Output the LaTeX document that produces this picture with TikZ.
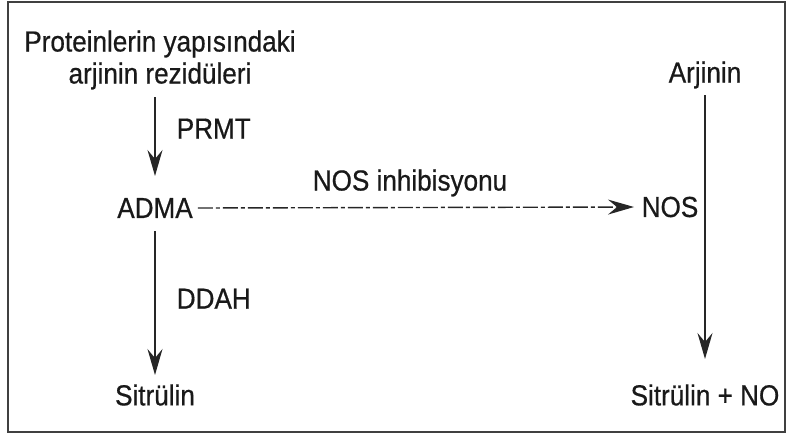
\documentclass[tikz,border=0pt]{standalone}
\usepackage{fontspec}
\setmainfont[FakeStretch=0.9,FakeBold=0.6]{Liberation Sans}
\usetikzlibrary{arrows.meta}
\begin{document}
\begin{tikzpicture}[x=1pt,y=-1pt,
  lbl/.style={font=\fontsize{29}{32}\selectfont, text=black!90, inner sep=1pt, align=center},
  arr/.style={-{Stealth[length=26pt,width=15pt,inset=9pt]}, line width=1.6pt, draw=black!85},
  dasharr/.style={-{Stealth[length=26pt,width=15pt,inset=9pt]}, line width=1.4pt, draw=black!85,
    dash pattern=on 15pt off 3pt on 4pt off 3pt}]
\useasboundingbox (0,0) rectangle (787,437);
\draw[line width=1.6pt, draw=black!75] (8,2) rectangle (785,432);
\node[lbl] (prot) at (160,60) {Proteinlerin yapısındaki\\arjinin rezidüleri};
\node[lbl] (adma) at (155,208) {ADMA};
\node[lbl] (sit1) at (155,395) {Sitrülin};
\node[lbl] (arj) at (705,75) {Arjinin};
\node[lbl] (nos) at (670,207) {NOS};
\node[lbl] (sit2) at (705,395) {Sitrülin + NO};
\coordinate (p1) at (155,97);
\coordinate (p2) at (155,176);
\coordinate (d1) at (155,231);
\coordinate (d2) at (155,375);
\coordinate (a1) at (705,95);
\coordinate (a2) at (705,359);
\draw[arr] (p1) -- node[lbl, right=20pt, pos=0.4] {PRMT} (p2);
\draw[arr] (d1) -- node[lbl, right=20pt, pos=0.47] {DDAH} (d2);
\draw[arr] (a1) -- (a2);
\draw[dasharr] (adma.east) ++(4pt,0) coordinate (m1) -- (nos.west -| 634,0) coordinate (m2);
\node[lbl] at (410,183) {NOS inhibisyonu};
\end{tikzpicture}
\end{document}
